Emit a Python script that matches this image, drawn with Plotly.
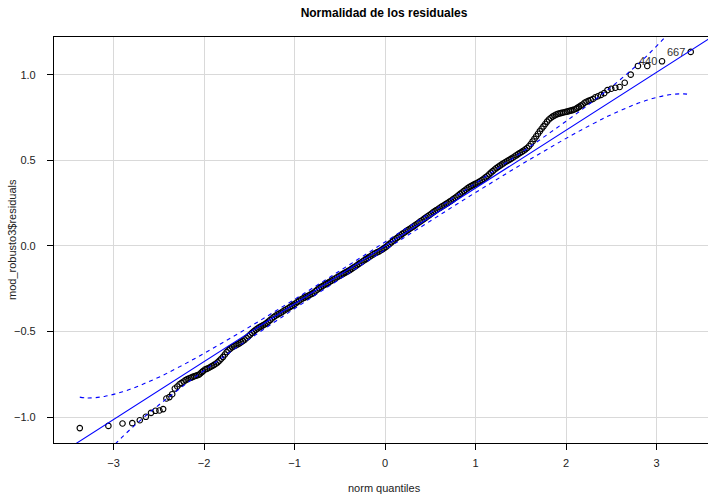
import plotly.graph_objects as go

# ---------------- data ----------------
# theoretical normal quantiles (x) and sorted residuals (y)
lower_tail_q = [-3.373, -3.057, -2.901, -2.793, -2.710, -2.643, -2.586, -2.537, -2.493, -2.452,
                -2.416, -2.383, -2.352, -2.323, -2.296, -2.271, -2.248, -2.225, -2.204, -2.183,
                -2.163, -2.143, -2.125, -2.107, -2.090, -2.073, -2.057, -2.041, -2.026, -2.011]
lower_tail_r = [-1.064, -1.051, -1.037, -1.035, -1.018, -0.998, -0.975, -0.963, -0.961, -0.953,
                -0.891, -0.883, -0.866, -0.833, -0.821, -0.808, -0.800, -0.792, -0.784, -0.778,
                -0.773, -0.769, -0.765, -0.761, -0.758, -0.755, -0.752, -0.745, -0.738, -0.731]

body_q = [-1.99, -1.97, -1.95, -1.93, -1.91, -1.89, -1.87, -1.85, -1.83, -1.81, -1.79, -1.77,
          -1.75, -1.73, -1.71, -1.69, -1.67, -1.65, -1.63, -1.61, -1.59, -1.57, -1.55, -1.53,
          -1.51, -1.49, -1.47, -1.45, -1.43, -1.41, -1.39, -1.37, -1.35, -1.33, -1.31, -1.29,
          -1.27, -1.25, -1.23, -1.21, -1.19, -1.17, -1.15, -1.13, -1.11, -1.09, -1.07, -1.05,
          -1.03, -1.01, -0.99, -0.97, -0.95, -0.93, -0.91, -0.89, -0.87, -0.85, -0.83, -0.81,
          -0.79, -0.77, -0.75, -0.73, -0.71, -0.69, -0.67, -0.65, -0.63, -0.61, -0.59, -0.57,
          -0.55, -0.53, -0.51, -0.49, -0.47, -0.45, -0.43, -0.41, -0.39, -0.37, -0.35, -0.33,
          -0.31, -0.29, -0.27, -0.25, -0.23, -0.21, -0.19, -0.17, -0.15, -0.13, -0.11, -0.09,
          -0.07, -0.05, -0.03, -0.01, 0.01, 0.03, 0.05, 0.07, 0.09, 0.11, 0.13, 0.15,
          0.17, 0.19, 0.21, 0.23, 0.25, 0.27, 0.29, 0.31, 0.33, 0.35, 0.37, 0.39,
          0.41, 0.43, 0.45, 0.47, 0.49, 0.51, 0.53, 0.55, 0.57, 0.59, 0.61, 0.63,
          0.65, 0.67, 0.69, 0.71, 0.73, 0.75, 0.77, 0.79, 0.81, 0.83, 0.85, 0.87,
          0.89, 0.91, 0.93, 0.95, 0.97, 0.99, 1.01, 1.03, 1.05, 1.07, 1.09, 1.11,
          1.13, 1.15, 1.17, 1.19, 1.21, 1.23, 1.25, 1.27, 1.29, 1.31, 1.33, 1.35,
          1.37, 1.39, 1.41, 1.43, 1.45, 1.47, 1.49, 1.51, 1.53, 1.55, 1.57, 1.59,
          1.61, 1.63, 1.65, 1.67, 1.69, 1.71, 1.73, 1.75, 1.77, 1.79, 1.81, 1.83,
          1.85, 1.87, 1.89, 1.91, 1.93, 1.95, 1.97, 1.99, 2.01, 2.03, 2.05, 2.07,
          2.09, 2.11]
body_r = [-0.722, -0.718, -0.713, -0.707, -0.701, -0.695, -0.688, -0.680, -0.670, -0.659, -0.648, -0.634,
          -0.620, -0.609, -0.600, -0.592, -0.586, -0.581, -0.575, -0.569, -0.562, -0.555, -0.547, -0.538,
          -0.528, -0.518, -0.508, -0.499, -0.490, -0.483, -0.476, -0.470, -0.464, -0.458, -0.451, -0.442,
          -0.433, -0.424, -0.415, -0.408, -0.401, -0.396, -0.390, -0.383, -0.376, -0.370, -0.364, -0.357,
          -0.350, -0.343, -0.336, -0.328, -0.320, -0.313, -0.307, -0.302, -0.296, -0.291, -0.285, -0.280,
          -0.274, -0.265, -0.256, -0.248, -0.240, -0.234, -0.228, -0.222, -0.216, -0.209, -0.203, -0.196,
          -0.190, -0.183, -0.177, -0.171, -0.165, -0.159, -0.153, -0.147, -0.141, -0.134, -0.127, -0.120,
          -0.113, -0.105, -0.098, -0.091, -0.084, -0.077, -0.070, -0.063, -0.056, -0.049, -0.043, -0.038,
          -0.033, -0.027, -0.020, -0.013, -0.006, 0.003, 0.012, 0.021, 0.030, 0.038, 0.046, 0.054,
          0.062, 0.070, 0.077, 0.085, 0.092, 0.099, 0.106, 0.113, 0.120, 0.128, 0.135, 0.143,
          0.150, 0.158, 0.165, 0.173, 0.180, 0.188, 0.196, 0.203, 0.210, 0.217, 0.224, 0.231,
          0.237, 0.244, 0.250, 0.257, 0.264, 0.272, 0.280, 0.287, 0.295, 0.304, 0.312, 0.320,
          0.328, 0.336, 0.343, 0.349, 0.355, 0.361, 0.366, 0.372, 0.378, 0.385, 0.392, 0.400,
          0.408, 0.418, 0.428, 0.437, 0.446, 0.454, 0.462, 0.469, 0.476, 0.483, 0.490, 0.496,
          0.502, 0.508, 0.515, 0.522, 0.529, 0.536, 0.543, 0.549, 0.556, 0.564, 0.572, 0.582,
          0.595, 0.610, 0.625, 0.640, 0.655, 0.670, 0.684, 0.698, 0.712, 0.726, 0.738, 0.747,
          0.755, 0.761, 0.767, 0.771, 0.774, 0.777, 0.779, 0.782, 0.784, 0.787, 0.790, 0.793,
          0.797, 0.801]

upper_tail_q = [2.125, 2.143, 2.163, 2.183, 2.204, 2.225, 2.248, 2.271, 2.296, 2.323, 2.352, 2.385,
                2.421, 2.457, 2.499, 2.544, 2.592, 2.648, 2.714, 2.794, 2.897, 3.060, 3.377]
upper_tail_r = [0.806, 0.812, 0.819, 0.826, 0.836, 0.842, 0.847, 0.852, 0.858, 0.868, 0.874, 0.882,
                0.892, 0.910, 0.918, 0.924, 0.928, 0.953, 1.000, 1.051, 1.051, 1.078, 1.133]

# labelled observations
label_ids = ["440", "667"]
label_q = [3.060, 3.377]
label_r = [1.078, 1.133]

# robust reference line
fit_slope = 0.338
fit_intercept = 0.0

# pointwise confidence envelope
env_q = [-3.373, -3.3, -3.2, -3.1, -3.0, -2.9, -2.8, -2.7, -2.6, -2.5, -2.4, -2.2, -2.0, -1.8, -1.6,
         -1.4, -1.2, -1.0, -0.8, -0.6, -0.4, -0.2, 0.0, 0.2, 0.4, 0.6, 0.8, 1.0, 1.2, 1.4, 1.6, 1.8,
         2.0, 2.2, 2.4, 2.5, 2.6, 2.7, 2.8, 2.9, 3.0, 3.1, 3.2, 3.3, 3.377]
env_upper = [-0.883, -0.888, -0.886, -0.879, -0.867, -0.852, -0.834, -0.813, -0.790, -0.767, -0.741,
             -0.686, -0.628, -0.567, -0.505, -0.442, -0.377, -0.312, -0.246, -0.179, -0.112, -0.045,
             0.023, 0.091, 0.159, 0.228, 0.297, 0.366, 0.437, 0.508, 0.579, 0.653, 0.728, 0.806,
             0.887, 0.929, 0.972, 1.017, 1.064, 1.114, 1.167, 1.223, 1.284, 1.350, 1.405]
env_lower = [-1.409, -1.350, -1.284, -1.223, -1.167, -1.114, -1.064, -1.017, -0.972, -0.929, -0.887,
             -0.806, -0.728, -0.653, -0.579, -0.508, -0.437, -0.366, -0.297, -0.228, -0.159, -0.091,
             -0.023, 0.045, 0.112, 0.179, 0.246, 0.312, 0.377, 0.442, 0.505, 0.567, 0.628, 0.686,
             0.741, 0.767, 0.790, 0.813, 0.834, 0.852, 0.867, 0.879, 0.886, 0.888, 0.883]

x_ticks = [-3, -2, -1, 0, 1, 2, 3]
y_ticks = [-1.0, -0.5, 0.0, 0.5, 1.0]
y_tick_text = ["\u22121.0", "\u22120.5", "0.0", "0.5", "1.0"]
x_tick_text = ["\u22123", "\u22122", "\u22121", "0", "1", "2", "3"]

X_RANGE = [-3.658, 3.568]
Y_RANGE = [-1.151, 1.220]

FONT = "Liberation Sans, Arial, Helvetica, sans-serif"
BLUE = "#0000FF"
W, H = 708, 497
ML, MR, MT, MB = 54, 0, 37, 54

# ---------------- figure ----------------
pts_q = lower_tail_q + body_q + upper_tail_q
pts_r = lower_tail_r + body_r + upper_tail_r

fig = go.Figure()
fig.add_trace(go.Scatter(
    x=pts_q, y=pts_r, mode="markers",
    marker=dict(symbol="circle-open", size=5.5, color="black", line=dict(width=1.1, color="black")),
    showlegend=False, hoverinfo="skip"))

line_x = [X_RANGE[0] - 0.2, X_RANGE[1] + 0.2]
fig.add_trace(go.Scatter(
    x=line_x, y=[fit_intercept + fit_slope * v for v in line_x], mode="lines",
    line=dict(color=BLUE, width=1.1), showlegend=False, hoverinfo="skip"))

for env in (env_upper, env_lower):
    fig.add_trace(go.Scatter(
        x=env_q, y=env, mode="lines",
        line=dict(color=BLUE, width=1.1, dash="4px,4px", shape="spline"),
        showlegend=False, hoverinfo="skip"))

for lid, q, r in zip(label_ids, label_q, label_r):
    fig.add_annotation(x=q, y=r, text=lid, showarrow=False, xanchor="right", yanchor="middle",
                       xshift=-3.5, font=dict(family=FONT, size=11, color="#333333"))

pw, ph = W - ML - MR, H - MT - MB
# axis titles placed as annotations in paper coordinates
fig.add_annotation(text="norm quantiles", xref="paper", yref="paper",
                   x=(384 - ML) / pw, y=(H - MB - 488) / ph, showarrow=False,
                   xanchor="center", yanchor="middle",
                   font=dict(family=FONT, size=11, color="#222222"))
fig.add_annotation(text="mod_robusto3$residuals", xref="paper", yref="paper",
                   x=(12 - ML) / pw, y=(H - MB - 240) / ph, showarrow=False, textangle=-90,
                   xanchor="center", yanchor="middle",
                   font=dict(family=FONT, size=11, color="#222222"))

fig.update_layout(
    width=W, height=H,
    margin=dict(l=ML, r=MR, t=MT, b=MB, autoexpand=False),
    paper_bgcolor="white", plot_bgcolor="white",
    font=dict(family=FONT, size=11, color="#222222"),
    title=dict(text="<b>Normalidad de los residuales</b>", font=dict(family=FONT, size=12, color="black"),
               x=384 / W, xref="container", xanchor="center",
               y=1 - 13 / H, yref="container", yanchor="middle"),
    xaxis=dict(range=X_RANGE, tickvals=x_ticks, ticktext=x_tick_text, showgrid=True, automargin=False,
               gridcolor="#d9d9d9", gridwidth=1, zeroline=False, showline=True, linecolor="black",
               linewidth=1.2, mirror=True, ticks="outside", ticklen=6, tickcolor="black",
               ticklabelstandoff=4),
    yaxis=dict(range=Y_RANGE, tickvals=y_ticks, ticktext=y_tick_text, showgrid=True, automargin=False,
               gridcolor="#d9d9d9", gridwidth=1, zeroline=False, showline=True, linecolor="black",
               linewidth=1.2, mirror=False, ticks="outside", ticklen=6, tickcolor="black",
               ticklabelstandoff=9),
)

fig.write_html("out.html", config={"displayModeBar": False},
               post_script="document.body.style.margin='0';document.body.style.padding='0';"
                           "document.documentElement.style.overflow='hidden';")
